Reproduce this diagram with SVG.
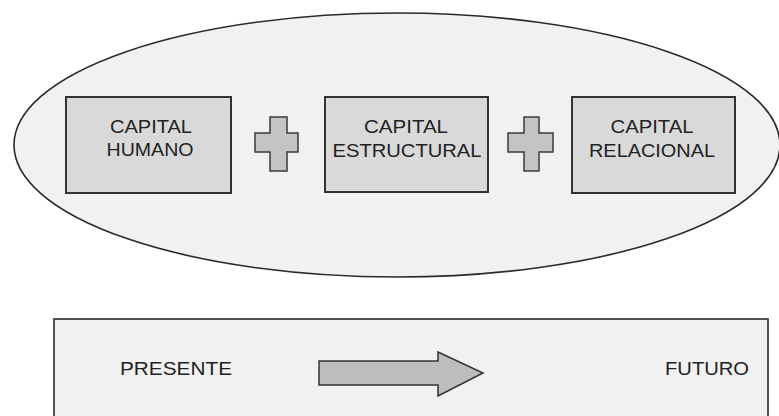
<svg xmlns="http://www.w3.org/2000/svg" width="779" height="416" viewBox="0 0 779 416">
  <style>
    .frame { fill: #f1f1f1; stroke: #2a2a2a; stroke-width: 1.6; }
    .box { fill: #d9d9d9; stroke: #333333; stroke-width: 2; }
    .plus { fill: #c4c4c4; stroke: #3a3a3a; stroke-width: 1.5; }
    .label { font-family: "Liberation Sans", Arial, sans-serif; font-size: 19px; fill: #222222; text-anchor: middle; }
    .free { font-family: "Liberation Sans", Arial, sans-serif; font-size: 19px; fill: #222222; }
  </style>
  <rect width="779" height="416" fill="#ffffff"/>

  <!-- enclosing ellipse -->
  <ellipse id="conjunto" class="frame" cx="397" cy="145" rx="383" ry="132"/>

  <g id="capital-humano">
    <rect class="box" x="66" y="97" width="165" height="96"/>
    <text class="label" x="151" y="133" textLength="82" lengthAdjust="spacingAndGlyphs">CAPITAL</text>
    <text class="label" x="150" y="156" textLength="87" lengthAdjust="spacingAndGlyphs">HUMANO</text>
  </g>

  <g id="capital-estructural">
    <rect class="box" x="325" y="97" width="163" height="95"/>
    <text class="label" x="406" y="133" textLength="84" lengthAdjust="spacingAndGlyphs">CAPITAL</text>
    <text class="label" x="407" y="157" textLength="149" lengthAdjust="spacingAndGlyphs">ESTRUCTURAL</text>
  </g>

  <g id="capital-relacional">
    <rect class="box" x="572" y="97" width="163" height="96"/>
    <text class="label" x="652" y="133" textLength="83" lengthAdjust="spacingAndGlyphs">CAPITAL</text>
    <text class="label" x="652" y="157" textLength="126" lengthAdjust="spacingAndGlyphs">RELACIONAL</text>
  </g>

  <g id="operadores">
    <polygon class="plus" points="270,117 287,117 287,133 298,133 298,152 287,152 287,171 270,171 270,152 255,152 255,133 270,133"/>
    <polygon class="plus" points="524,117 539,117 539,133 553,133 553,152 539,152 539,171 524,171 524,152 508,152 508,133 524,133"/>
  </g>

  <!-- time line panel -->
  <g id="linea-tiempo">
    <rect class="frame" x="54" y="319" width="714" height="110"/>
    <text class="free" x="120" y="375" textLength="112" lengthAdjust="spacingAndGlyphs">PRESENTE</text>
    <text class="free" x="665" y="375" textLength="84" lengthAdjust="spacingAndGlyphs">FUTURO</text>
  </g>

  <g id="conectores">
    <polygon points="319,361 438,361 438,352 483,373 438,396 438,385 319,385" fill="#bdbdbd" stroke="#333333" stroke-width="1.5" stroke-linejoin="miter"/>
  </g>
</svg>
